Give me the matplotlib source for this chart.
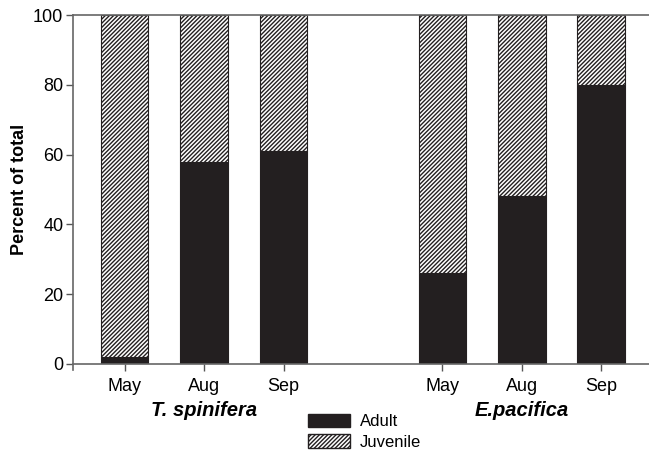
import matplotlib
matplotlib.use("Agg")
import matplotlib.pyplot as plt
from matplotlib.patches import Patch
import numpy as np

plt.rcParams['font.family'] = ['Liberation Sans', 'DejaVu Sans']
plt.rcParams['hatch.linewidth'] = 1.0
plt.rcParams['hatch.color'] = '#231f20'

months = ["May", "Aug", "Sep", "May", "Aug", "Sep"]
species = ["T. spinifera", "E.pacifica"]
adult = [2, 58, 61, 26, 48, 80]
juvenile = [100 - a for a in adult]
positions = [0, 1, 2, 4, 5, 6]

fig = plt.figure(figsize=(6.49, 4.51), dpi=100)
ax = fig.add_axes([73/649, 1-364/451, 1-73/649, (364-15)/451])

dark = '#231f20'
hatch = '////////'
ax.bar(positions, adult, width=0.6, color=dark, edgecolor=dark, linewidth=0.8)
ax.bar(positions, juvenile, bottom=adult, width=0.6, color='white',
       edgecolor=dark, hatch=hatch, linewidth=0.8)

ax.set_xlim(-0.65, 6.6)
ax.set_ylim(0, 100)
ax.set_yticks([0, 20, 40, 60, 80, 100])
ax.set_xticks(positions)
ax.set_xticklabels(months)
ax.tick_params(axis='both', labelsize=13, color='#555555', length=5, width=1)
ax.tick_params(axis='x', pad=5)
ax.tick_params(axis='y', pad=2)
ax.spines['right'].set_visible(False)
for s in ['top', 'left', 'bottom']:
    ax.spines[s].set_color('#666666')
    ax.spines[s].set_linewidth(1.2)
ax.spines['left'].set_bounds(-1.8, 100)
ax.set_ylabel("Percent of total", fontsize=13, fontweight='bold', labelpad=3.5)

for x, name in zip([1, 5], species):
    ax.text(x, -13.2, name, ha='center', va='center', fontsize=14.5,
            fontweight='bold', fontstyle='italic', clip_on=False)

handles = [Patch(facecolor=dark, edgecolor=dark, label='Adult'),
           Patch(facecolor='white', edgecolor=dark, hatch=hatch, label='Juvenile')]
fig.legend(handles=handles, loc='upper left', bbox_to_anchor=(308/649, 1-414/451),
           frameon=False, fontsize=12, handlelength=2.5, handleheight=0.84,
           handletextpad=0.6, labelspacing=0.3, borderpad=0, borderaxespad=0)

fig.savefig("out.png", dpi=100)
